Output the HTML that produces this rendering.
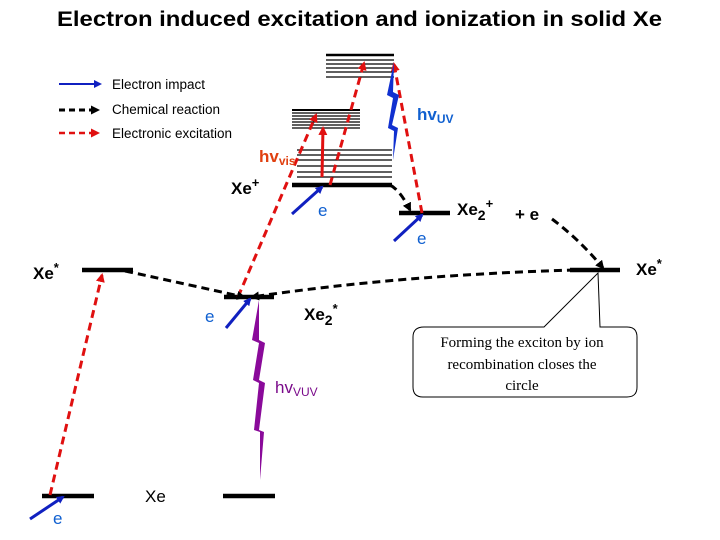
<!DOCTYPE html>
<html><head><meta charset="utf-8">
<style>
html,body{margin:0;padding:0;background:#fff;}
svg{display:block;font-family:"Liberation Sans",Arial,sans-serif;}
</style></head>
<body>
<svg id="d" width="720" height="540" viewBox="0 0 720 540">
<defs>
<marker id="ab" markerWidth="8" markerHeight="8" refX="6" refY="4" orient="auto" markerUnits="userSpaceOnUse"><path d="M0,0 L8,4 L0,8z" fill="#1020c0"/></marker>
<marker id="ak" markerWidth="9" markerHeight="9" refX="7" refY="4.5" orient="auto" markerUnits="userSpaceOnUse"><path d="M0,0 L9,4.5 L0,9z" fill="#000"/></marker>
<marker id="ar" markerWidth="9" markerHeight="9" refX="7" refY="4.5" orient="auto" markerUnits="userSpaceOnUse"><path d="M0,0 L9,4.5 L0,9z" fill="#e01010"/></marker>
</defs>
<text x="57" y="26" font-size="21" font-weight="bold" textLength="605" lengthAdjust="spacingAndGlyphs">Electron induced excitation and ionization in solid Xe</text>

<g>
<line x1="59" y1="84" x2="100" y2="84" stroke="#1020c0" stroke-width="2" marker-end="url(#ab)"/>
<text x="112" y="89" font-size="13.5">Electron impact</text>
<line x1="59" y1="110" x2="98" y2="110" stroke="#000" stroke-width="3" stroke-dasharray="6,4" marker-end="url(#ak)"/>
<text x="112" y="114" font-size="13.5">Chemical reaction</text>
<line x1="59" y1="133" x2="98" y2="133" stroke="#e01010" stroke-width="2.5" stroke-dasharray="6,4" marker-end="url(#ar)"/>
<text x="112" y="138" font-size="13.5">Electronic excitation</text>
</g>

<g id="levels"></g>

<g fill="none" stroke="#e01010" stroke-width="3" stroke-dasharray="8,5">
<line x1="50" y1="495" x2="102" y2="275" marker-end="url(#ar)"/>
<line x1="238" y1="297" x2="316" y2="115" marker-end="url(#ar)"/>
<line x1="330" y1="185" x2="364" y2="63" marker-end="url(#ar)"/>
<line x1="422" y1="213" x2="394" y2="64" marker-end="url(#ar)"/>
</g>
<line x1="322" y1="177" x2="323" y2="128" stroke="#e01010" stroke-width="3" marker-end="url(#ar)"/>

<g fill="none" stroke="#000" stroke-width="3" stroke-dasharray="8,5">
<path d="M125,271 Q190,285 244,297" marker-end="url(#ak)"/>
<path d="M575,270 Q400,275 252,297" marker-end="url(#ak)"/>
<path d="M390,185 Q400,190 410,210" marker-end="url(#ak)"/>
<path d="M552,219 Q580,240 603,268" marker-end="url(#ak)"/>
</g>

<g stroke="#1020c0" stroke-width="3">
<line x1="30" y1="519" x2="63" y2="497" marker-end="url(#ab)"/>
<line x1="226" y1="328" x2="250" y2="299" marker-end="url(#ab)"/>
<line x1="292" y1="214" x2="322" y2="187" marker-end="url(#ab)"/>
<line x1="394" y1="241" x2="422" y2="215" marker-end="url(#ab)"/>
</g>

<path d="M394,62 L387,95 L393,98 L388,128 L394,131 L393,160 L398,128 L392,125 L399,95 L393,92 Z" fill="#1030d0"/>
<path d="M259,300 L252,340 L259,343 L253,380 L259,383 L254,430 L260,432 L260,480 L264,432 L259,430 L265,383 L259,380 L265,343 L259,340 Z" fill="#8a0a9a"/>

<g font-size="17" font-weight="bold">
<text x="417" y="120" fill="#1060d0">hv<tspan font-size="12" dy="3">UV</tspan></text>
<text x="259" y="162" fill="#e04010">hv<tspan font-size="12" dy="3">vis</tspan></text>
<text x="231" y="194">Xe<tspan font-size="13" dy="-7">+</tspan></text>
<text x="318" y="216" fill="#1060d0" font-weight="normal">e</text>
<text x="457" y="215">Xe<tspan font-size="14" dy="5">2</tspan><tspan font-size="13" dy="-12">+</tspan></text>
<text x="515" y="220">+ e</text>
<text x="417" y="244" fill="#1060d0" font-weight="normal">e</text>
<text x="33" y="279">Xe<tspan font-size="13" dy="-7">*</tspan></text>
<text x="636" y="275">Xe<tspan font-size="13" dy="-7">*</tspan></text>
<text x="304" y="320">Xe<tspan font-size="14" dy="5">2</tspan><tspan font-size="13" dy="-12">*</tspan></text>
<text x="205" y="322" fill="#1060d0" font-weight="normal">e</text>
<text x="275" y="393" fill="#7a0a8a" font-weight="normal">hv<tspan font-size="12" dy="3">VUV</tspan></text>
<text x="145" y="502" font-weight="normal">Xe</text>
<text x="53" y="524" fill="#1060d0" font-weight="normal">e</text>
</g>

<g>
<path d="M424,327 L544,327 L598,273 L600,327 L627,327 Q637,327 637,337 L637,387 Q637,397 627,397 L423,397 Q413,397 413,387 L413,337 Q413,327 424,327 Z" fill="#fff" stroke="#000" stroke-width="1"/>
<g font-family="'Liberation Serif',serif" font-size="15" text-anchor="middle">
<text x="522" y="347">Forming the exciton by ion</text>
<text x="522" y="369">recombination closes the</text>
<text x="522" y="390">circle</text>
</g>
</g>
</svg>
<script>
var thickLevels = [[42,94,496],[223,275,496],[82,133,270],[224,274,297],[292,392,185],[399,450,213],[570,620,270]];
var bandLow = [150,155,160,166,172,177];
var bandMid = [110,113,116,119,122,125,128];
var bandTop = [55,60,64,68,72,77];
var g = document.getElementById('levels');
var NS = 'http://www.w3.org/2000/svg';
function ln(x1,x2,y,w,name){
  var l = document.createElementNS(NS,'line');
  l.setAttribute('x1',x1);l.setAttribute('x2',x2);l.setAttribute('y1',y);l.setAttribute('y2',y);
  l.setAttribute('stroke','#000');l.setAttribute('stroke-width',w);
  
  
  g.appendChild(l);
}
thickLevels.forEach(function(v){ ln(v[0],v[1],v[2],4.5,'energy-level'); });
bandLow.forEach(function(y){ ln(297,392,y,1.2,'band-level-low'); });
bandMid.forEach(function(y,i){ ln(292,360,y,i===0?2:1.2,'band-level-mid'); });
bandTop.forEach(function(y,i){ ln(326,394,y,i===0?2.5:1.2,'band-level-top'); });
</script>
</body></html>
